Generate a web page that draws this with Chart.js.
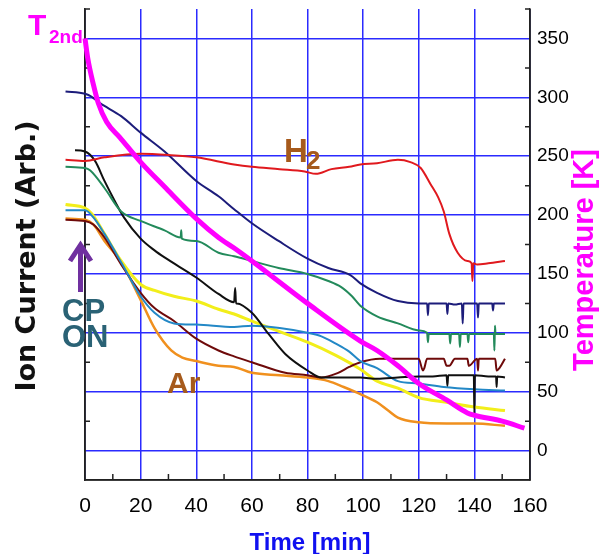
<!DOCTYPE html>
<html><head><meta charset="utf-8">
<script src="https://cdn.jsdelivr.net/npm/chart.js@4/dist/chart.umd.min.js"></script>
<style>html,body{margin:0;padding:0;background:#fff;}canvas{display:block;}</style>
</head><body>
<canvas id="c" width="605" height="554"></canvas>
<script>
// ---- tick labels ----
const xTickLabels = [0, 20, 40, 60, 80, 100, 120, 140, 160];
const yTickLabels = [0, 50, 100, 150, 200, 250, 300, 350];

// ---- series (time [min], value in right-axis units) ----
const t2ndTime = [0, 1, 3, 4.8, 7.8, 12.5, 20, 28.6, 40, 48, 53.6, 60, 80, 99, 105, 112.5, 120, 130, 137.5, 140, 150, 158];
const t2ndVals = [350, 333, 311, 295, 279, 266, 245, 224, 197, 181, 172, 161, 125, 93, 85, 72, 57, 43, 32, 30, 25, 19];

const navyTime = [-7, 0, 2, 5.4, 13, 20, 28.6, 40, 48, 53.6, 60, 69.6, 80, 87.5, 95.4, 99, 105, 112.5, 120, 123, 123.3, 123.6, 126, 130, 130.3, 130.6, 133, 135.5, 135.8, 136.1, 138, 141, 141.3, 141.6, 144, 146.4, 146.7, 147, 151];
const navyVals = [305, 303, 301, 295, 284, 270, 254, 229, 216, 205, 193, 178, 163, 155, 149, 142, 134, 127, 125, 125, 115, 125, 125, 125, 116, 125, 124, 125, 108, 125, 125, 125, 113, 125, 125, 125, 119, 125, 125];

const h2Time = [-7, 0, 7, 20, 30, 40, 53.6, 60, 70, 79, 83, 88.6, 95, 99, 105, 112.5, 117, 120.7, 124.3, 127, 129, 131, 134, 137.5, 139, 139.3, 139.6, 141, 145, 151];
const h2Vals = [247, 246, 249, 252, 251, 249, 243, 241, 239, 237, 235, 239, 241, 243, 244, 247, 245, 240, 226, 215, 203, 184, 168, 161, 159, 144, 159, 158, 159, 161];

const greenTime = [-7, 0, 1.8, 7, 13, 20, 28.6, 34.4, 34.6, 34.8, 40, 48, 53.6, 60, 69.6, 80, 87.5, 92, 96, 99, 105, 112.5, 120, 123, 123.3, 123.6, 128, 131, 131.3, 131.6, 134.5, 134.8, 135.1, 137.5, 137.8, 138.1, 142, 147, 147.2, 147.4, 147.6, 151];
const greenVals = [241, 240, 238, 223, 203, 195, 187, 181, 187, 180, 178, 168, 165, 161, 155, 150, 144, 139, 131, 123, 114, 108, 102, 100, 92, 99, 99, 99, 91, 99, 99, 88, 99, 99, 92, 99, 99, 99, 85, 106, 99, 99];

const blackTime = [-7, -3.6, 0, 3.6, 7, 10.7, 14, 20, 25, 28.6, 40, 48, 53.6, 54, 54.3, 54.6, 60, 66, 72, 80, 85, 90, 99, 105, 112.5, 120, 125, 130, 130.3, 130.6, 135, 139.8, 140, 140.2, 145, 147.8, 148, 148.2, 151];
const blackVals = [255, 255, 254, 246, 229, 212, 198, 180, 170, 164, 147, 133, 126, 138, 125, 125, 117, 99, 82, 68, 62, 62, 62, 61, 62, 63, 63, 64, 55, 64, 64, 64, 31, 64, 63, 63, 54, 63, 62];

const yellowTime = [-7, 0, 2.5, 7, 13, 20, 25, 32, 40, 48, 53.6, 60, 70, 80, 90, 99, 105, 112.5, 120, 130, 140, 151];
const yellowVals = [209, 206, 201, 184, 161, 141, 136, 131, 127, 120, 116, 110, 101, 92, 81, 69, 59, 53, 45, 41, 37, 34];

const blueTime = [-7, 0, 3, 7, 13, 20, 25, 32, 40, 53.6, 60, 70, 80, 85, 90, 95, 99, 105, 112.5, 120, 129, 140, 151];
const blueVals = [204, 204, 198, 184, 160, 131, 117, 108, 107, 105, 106, 104, 100, 97, 91, 84, 76, 70, 59, 57, 54, 52, 51];

const maroonTime = [-7, 0, 3, 7, 13, 20, 25, 32, 40, 48, 53.6, 60, 72, 80, 85, 91, 95, 99, 106, 112.5, 120, 121.5, 122, 123, 126, 129, 130, 131, 133, 137.5, 138, 141, 141.3, 141.6, 145, 147.5, 148, 149, 151];
const maroonVals = [196, 195, 192, 181, 158, 134, 121, 110, 95, 85, 80, 75, 66, 64, 62, 66, 71, 75, 78, 78, 78, 68, 70, 78, 78, 78, 72, 72, 78, 78, 72, 78, 68, 78, 78, 78, 68, 70, 78];

const orangeTime = [-7, 0, 3, 7, 13, 20, 25, 31, 35, 40, 48, 53.6, 60, 70, 80, 87.5, 93, 99, 105, 109, 112.5, 120, 130, 140, 151];
const orangeVals = [197, 196, 192, 178, 160, 128, 104, 85, 79, 76, 72, 71, 66, 64, 62, 59, 54, 48, 41, 34, 28, 24, 23, 23, 21];

const GRID = '#2b2bff';
const TICKFONT = '"Liberation Sans", Arial, sans-serif';

function mk(label, t, v, color, w) {
  return {
    label, data: t.map((x, i) => ({x, y: v[i]})),
    borderColor: color, backgroundColor: color, borderWidth: w,
    pointRadius: 0, fill: false, clip: false, yAxisID: 'y',
    cubicInterpolationMode: 'monotone'
  };
}
function noPad(s) { s.paddingTop = 0; s.paddingBottom = 0; s.paddingLeft = 0; s.paddingRight = 0; }

const decor = {
  id: 'decor',
  beforeDatasetsDraw(chart) {
    const {ctx, chartArea: a, scales: {x, y}} = chart;
    ctx.save();
    ctx.strokeStyle = '#222';
    ctx.lineWidth = 1.5;
    for (let v = 25; v <= 375; v += 50) {
      const py = y.getPixelForValue(v);
      ctx.beginPath();
      ctx.moveTo(a.left, py); ctx.lineTo(a.left + 5, py);
      ctx.moveTo(a.right, py); ctx.lineTo(a.right - 5, py);
      ctx.stroke();
    }
    for (let v = 10; v < 160; v += 20) {
      const px = x.getPixelForValue(v);
      ctx.beginPath();
      ctx.moveTo(px, a.bottom); ctx.lineTo(px, a.bottom - 6);
      ctx.stroke();
    }
    ctx.beginPath();
    ctx.moveTo(a.left, a.top); ctx.lineTo(a.left, a.bottom); ctx.lineTo(a.right, a.bottom); ctx.lineTo(a.right, a.top);
    ctx.stroke();
    ctx.restore();
  },
  afterDraw(chart) {
    const ctx = chart.ctx;
    ctx.save();
    ctx.textAlign = 'left';
    ctx.textBaseline = 'alphabetic';
    ctx.fillStyle = '#ff00ff';
    ctx.font = 'bold 30px "Liberation Sans", Arial, sans-serif';
    ctx.fillText('T', 28, 35);
    ctx.font = 'bold 19px "Liberation Sans", Arial, sans-serif';
    ctx.fillText('2nd', 49, 43);
    ctx.fillStyle = '#a65a1c';
    ctx.font = 'bold 33px "Liberation Sans", Arial, sans-serif';
    ctx.fillText('H', 284, 162);
    ctx.font = 'bold 26px "Liberation Sans", Arial, sans-serif';
    ctx.fillText('2', 306, 169);
    ctx.font = 'bold 30px "Liberation Sans", Arial, sans-serif';
    ctx.fillText('Ar', 167, 393);
    ctx.fillStyle = '#2a6275';
    ctx.font = 'bold 31px "Liberation Sans", Arial, sans-serif';
    ctx.fillText('CP', 62, 321);
    ctx.fillText('ON', 62, 347);
    ctx.strokeStyle = '#7030a0';
    ctx.lineWidth = 5;
    ctx.lineJoin = 'miter';
    ctx.beginPath();
    ctx.moveTo(80.5, 292); ctx.lineTo(80.5, 245);
    ctx.moveTo(70, 261); ctx.lineTo(80.5, 245); ctx.lineTo(91, 261);
    ctx.stroke();
    ctx.textAlign = 'center';
    ctx.fillStyle = '#111';
    ctx.font = 'bold 27px "DejaVu Sans", sans-serif';
    ctx.save(); ctx.translate(35, 256); ctx.rotate(-Math.PI / 2);
    ctx.fillText('Ion Current (Arb.)', 0, 0); ctx.restore();
    ctx.fillStyle = '#ff00ff';
    ctx.font = 'bold 29px "Liberation Sans", Arial, sans-serif';
    ctx.save(); ctx.translate(593, 260); ctx.rotate(-Math.PI / 2);
    ctx.fillText('Temperature [K]', 0, 0); ctx.restore();
    ctx.fillStyle = '#1010f0';
    ctx.font = 'bold 24px "Liberation Sans Narrow", "Liberation Sans", Arial, sans-serif';
    ctx.fillText('Time [min]', 310, 550);
    ctx.restore();
  }
};

new Chart(document.getElementById('c'), {
  type: 'line',
  data: {
    datasets: [
      mk('T2nd', t2ndTime, t2ndVals, '#ff00ff', 5),
      mk('H2', h2Time, h2Vals, '#e0191e', 2),
      mk('navy', navyTime, navyVals, '#1c1c7a', 2),
      mk('green', greenTime, greenVals, '#238a5b', 2),
      mk('black', blackTime, blackVals, '#101010', 2),
      mk('blue', blueTime, blueVals, '#2388c6', 2),
      mk('maroon', maroonTime, maroonVals, '#6e0a0a', 2),
      mk('yellow', yellowTime, yellowVals, '#f2ee1a', 3),
      mk('Ar', orangeTime, orangeVals, '#f0901e', 2.5)
    ]
  },
  options: {
    responsive: false, animation: false, devicePixelRatio: 1,
    layout: {padding: {top: 9, left: 0, right: 0, bottom: 0}},
    plugins: {legend: {display: false}, tooltip: {enabled: false}},
    scales: {
      x: {
        type: 'linear', min: 0, max: 160,
        afterBuildTicks: s => { s.ticks = xTickLabels.map(v => ({value: v})); },
        afterFit: s => { s.height = 74; noPad(s); },
        grid: {color: GRID, lineWidth: 1.5, drawTicks: false},
        border: {color: '#222', width: 1.5},
        ticks: {font: {family: TICKFONT, size: 21}, color: '#000', padding: 14, maxRotation: 0}
      },
      yL: {
        position: 'left', min: -25, max: 375,
        afterFit: s => { s.width = 85; noPad(s); },
        ticks: {display: false},
        grid: {display: false, drawTicks: false},
        border: {display: true, color: '#222', width: 1.5}
      },
      y: {
        position: 'right', min: -25, max: 375,
        afterBuildTicks: s => { s.ticks = yTickLabels.map(v => ({value: v})); },
        afterFit: s => { s.width = 75; noPad(s); },
        grid: {color: GRID, lineWidth: 1.5, drawTicks: false},
        border: {color: '#222', width: 1.5},
        ticks: {font: {family: TICKFONT, size: 19}, color: '#000', padding: 7}
      }
    }
  },
  plugins: [decor]
});
</script>
</body></html>
